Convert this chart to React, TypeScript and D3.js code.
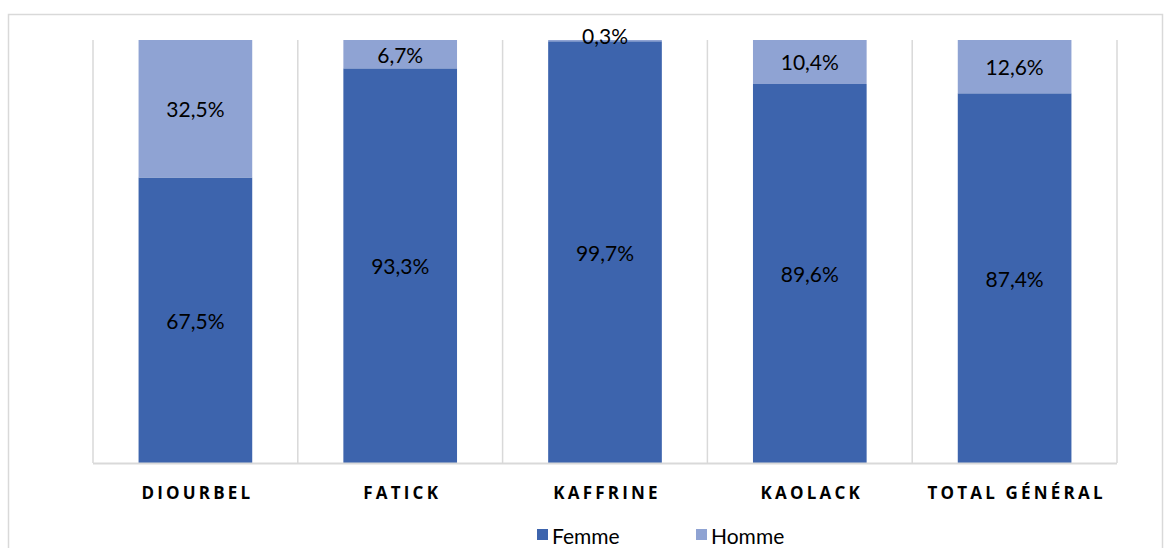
import React, { useEffect, useRef } from "react";
import * as d3 from "d3";

const categories = ["DIOURBEL", "FATICK", "KAFFRINE", "KAOLACK", "TOTAL GÉNÉRAL"];
const femme = [67.5, 93.3, 99.7, 89.6, 87.4];
const homme = [32.5, 6.7, 0.3, 10.4, 12.6];
const seriesNames = ["Femme", "Homme"];
const colors = ["#3d64ad", "#8fa3d3"];

const W = 1165;
const H = 548;

const App = () => {
  const ref = useRef<SVGSVGElement>(null);

  useEffect(() => {
    const svg = d3.select(ref.current);
    svg.selectAll("*").remove();

    const margin = { top: 40, right: 48, bottom: 85, left: 93 };
    const x = d3.scaleBand().domain(categories).range([margin.left, W - margin.right]).paddingInner(0.445).paddingOuter(0.2225);
    const y = d3.scaleLinear().domain([0, 100]).range([H - margin.bottom, margin.top]);

    // chart frame
    svg.append("rect")
      .attr("x", 8.5).attr("y", 14.5)
      .attr("width", 1154).attr("height", 560)
      .attr("fill", "none").attr("stroke", "#d9d9d9").attr("stroke-width", 1.5);

    // vertical gridlines between categories
    const step = x.step();
    const bounds = d3.range(categories.length + 1).map(i => margin.left + i * step);
    svg.append("g").selectAll("line").data(bounds).join("line")
      .attr("x1", d => d).attr("x2", d => d)
      .attr("y1", y(100)).attr("y2", y(0))
      .attr("stroke", "#d9d9d9").attr("stroke-width", 1.5);

    const rows = categories.map((c, i) => ({ cat: c, Femme: femme[i], Homme: homme[i] }));
    const stacked = d3.stack<any>().keys(seriesNames)(rows);

    stacked.forEach((s, si) => {
      const g = svg.append("g");
      g.selectAll("rect").data(s).join("rect")
        .attr("x", d => x(d.data.cat)!)
        .attr("width", x.bandwidth())
        .attr("y", d => y(d[1]))
        .attr("height", d => y(d[0]) - y(d[1]))
        .attr("fill", colors[si]);
      g.selectAll("text").data(s).join("text")
        .attr("x", d => x(d.data.cat)! + x.bandwidth() / 2)
        // tiny segments: label sits just over the top edge
        .attr("y", d => (d[1] - d[0] < 2 ? y(d[1]) - 5 : (y(d[0]) + y(d[1])) / 2))
        .attr("text-anchor", "middle")
        .attr("dominant-baseline", "central")
        .attr("font-family", "Lato, 'Noto Sans', sans-serif")
        .attr("font-size", 21)
        .attr("fill", "#000")
        .text(d => d3.format(".1f")(d[1] - d[0]).replace(".", ",") + "%");
    });

    // x axis
    svg.append("line")
      .attr("x1", margin.left).attr("x2", W - margin.right)
      .attr("y1", y(0) + 0.5).attr("y2", y(0) + 0.5)
      .attr("stroke", "#d9d9d9").attr("stroke-width", 2);

    svg.append("g").selectAll("text").data(categories).join("text")
      .attr("x", d => x(d)! + x.bandwidth() / 2 + 2)
      .attr("y", 492)
      .attr("text-anchor", "middle")
      .attr("dominant-baseline", "central")
      .attr("font-family", "'Open Sans', 'Noto Sans', sans-serif")
      .attr("font-weight", "bold")
      .attr("font-size", 17)
      .attr("letter-spacing", 3.2)
      .attr("fill", "#000")
      .text(d => d);

    // legend
    const legend = svg.append("g");
    const lx = [537, 696];
    seriesNames.forEach((n, i) => {
      legend.append("rect")
        .attr("x", lx[i]).attr("y", 529).attr("width", 11).attr("height", 11)
        .attr("fill", colors[i]);
      legend.append("text")
        .attr("x", lx[i] + 15).attr("y", 535)
        .attr("dominant-baseline", "central")
        .attr("font-family", "Lato, 'Noto Sans', sans-serif")
        .attr("font-size", 21)
        .attr("fill", "#000")
        .text(n);
    });
  }, []);

  return (
    <svg ref={ref} width={W} height={H} style={{ position: "absolute", left: 0, top: 0, background: "#fff" }} />
  );
};

export default App;
